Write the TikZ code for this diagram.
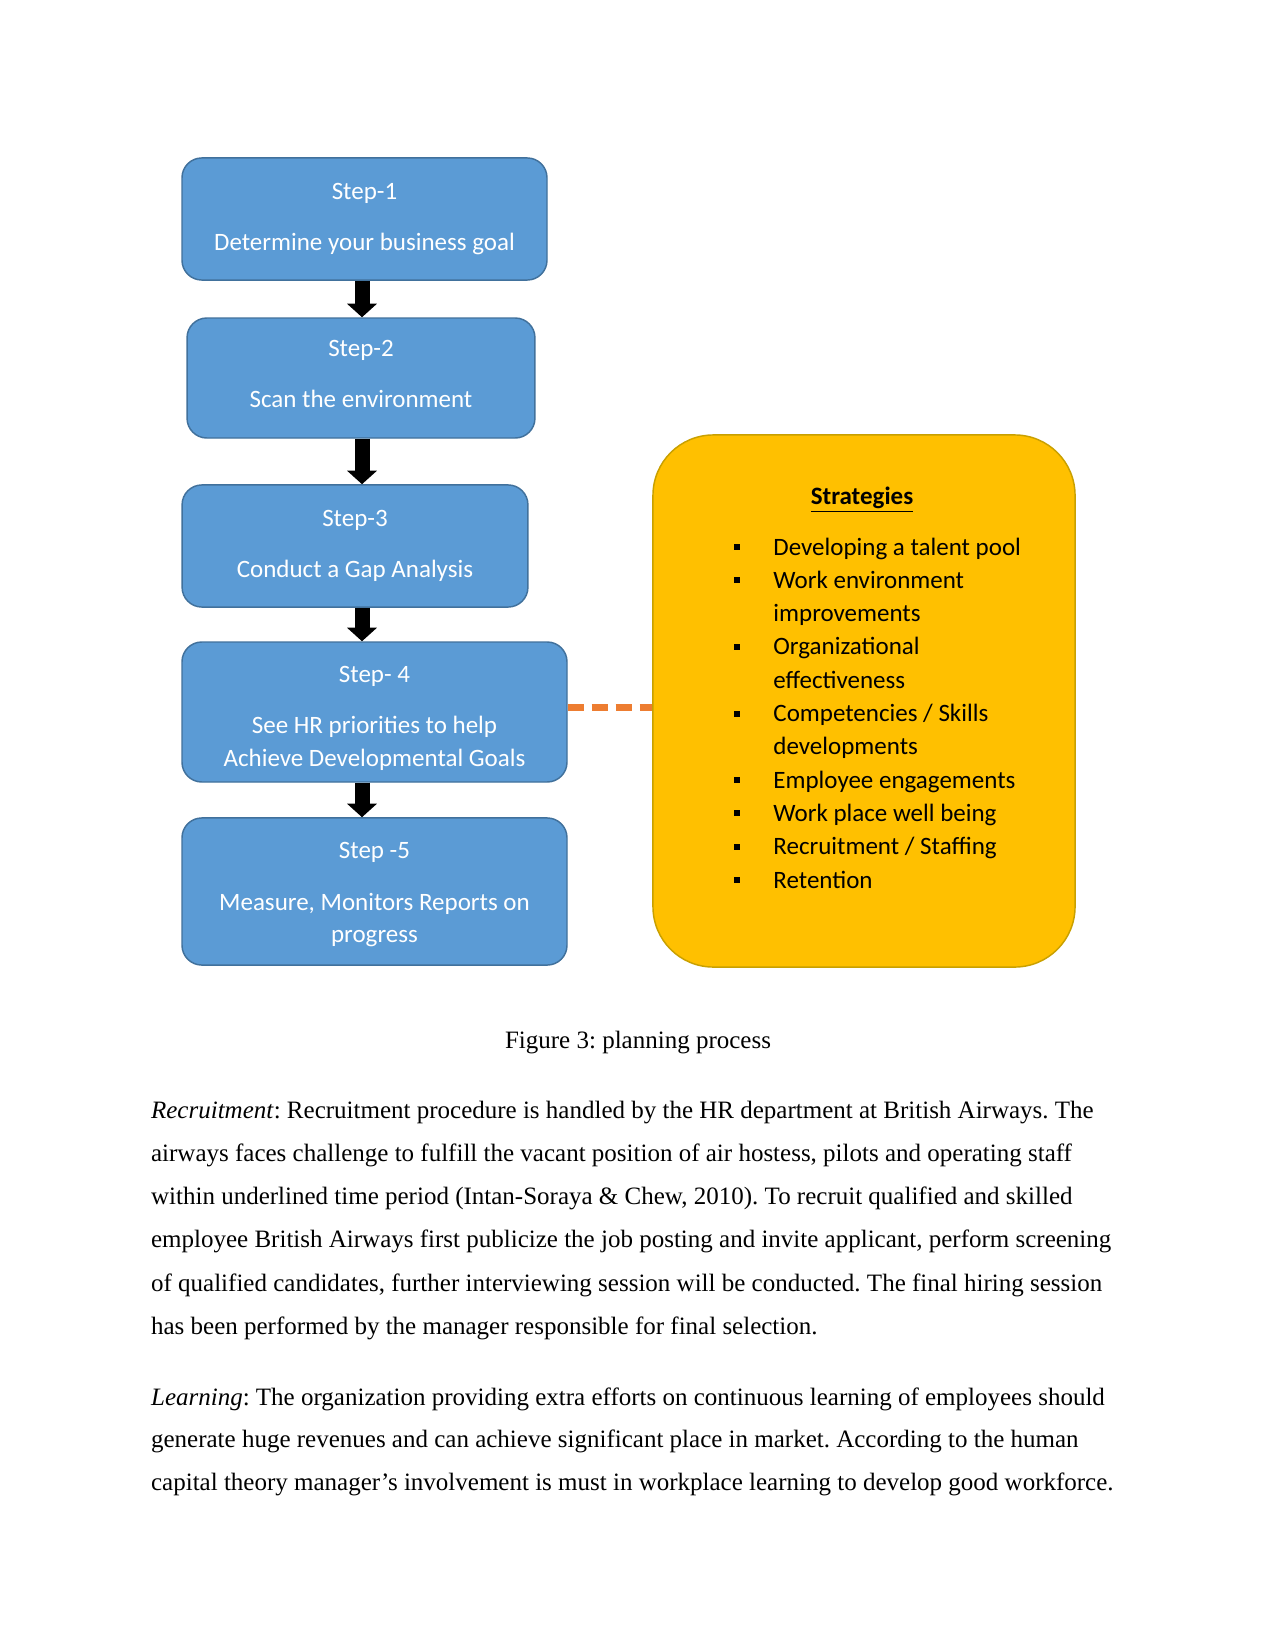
\documentclass[tikz,border=0pt]{standalone}
\usepackage{fontspec}
\setmainfont{Liberation Serif}
\newfontfamily\calib{Carlito}
\usetikzlibrary{arrows.meta}
\definecolor{boxblue}{HTML}{5B9BD5}
\definecolor{boxedge}{HTML}{41719C}
\definecolor{yel}{HTML}{FFC000}
\definecolor{yeledge}{HTML}{C9A000}
\definecolor{dashorange}{HTML}{ED7D31}
\begin{document}
\frenchspacing
\begin{tikzpicture}[x=0.48pt,y=-0.48pt,
  stepbox/.style={draw=boxedge, fill=boxblue, rounded corners=9.5pt, line width=0.7pt, inner sep=0pt},
  steptext/.style={text=white, font=\calib\fontsize{12}{15.8}\selectfont, align=center, inner sep=0pt},
  flowarrow/.style={line width=7.2pt, black, -{Triangle[width=14pt,length=6.5pt]}},
  linkdash/.style={dashorange, line width=2.9pt, dash pattern=on 8pt off 3.5pt},
  stratbox/.style={draw=yeledge, fill=yel, rounded corners=29pt, line width=0.7pt, inner sep=0pt},
  strattext/.style={anchor=base west, font=\calib\fontsize{12}{15.8}\selectfont, inner sep=0pt},
  bodytext/.style={anchor=base west, font=\fontsize{12}{14}\selectfont, inner sep=0pt}]
\useasboundingbox (0,0) rectangle (1275,1651);
\fill[white] (0,0) rectangle (1275,1651);

% step boxes
\node[stepbox, minimum width=175.2pt, minimum height=58.6pt] (b1) at (364.5,219) {};
\node[stepbox, minimum width=167pt, minimum height=57.6pt] (b2) at (361,378) {};
\node[stepbox, minimum width=166pt, minimum height=58.6pt] (b3) at (355,546) {};
\node[stepbox, minimum width=184.8pt, minimum height=67.2pt] (b4) at (374.5,712) {};
\node[stepbox, minimum width=184.8pt, minimum height=70.6pt] (b5) at (374.5,891.5) {};

\node[steptext] (t1) at (364.5,219) {Step-1\\[8.7pt]Determine your business goal};
\node[steptext] (t2) at (361,374) {Step-2\\[8.7pt]Scan the environment};
\node[steptext] (t3) at (355,546) {Step-3\\[8.7pt]Conduct a Gap Analysis};
\node[steptext] (t4) at (374.5,718) {Step- 4\\[8.7pt]See HR priorities to help\\Achieve Developmental Goals};
\node[steptext] (t5) at (374.5,895) {Step -5\\[8.7pt]Measure, Monitors Reports on\\progress};

% arrows
\coordinate (ax) at (362,0);
\draw[flowarrow] (b1.south -| ax) -- (b2.north -| ax);
\draw[flowarrow] (b2.south -| ax) -- (b3.north -| ax);
\draw[flowarrow] (b3.south -| ax) -- (b4.north -| ax);
\draw[flowarrow] (b4.south -| ax) -- (b5.north -| ax);

% strategies box
\node[stratbox, minimum width=202.6pt, minimum height=255.4pt] (strat) at (864,701) {};
\coordinate (dy) at (0,707.5);
\draw[linkdash] (b4.east |- dy) -- (strat.west |- dy);

\node[anchor=base, font=\calib\fontsize{12}{15.8}\selectfont\bfseries, inner sep=0pt] (title) at (862,504) {\underline{Strategies}};
\node[strattext] (s1) at (773,555) {Developing a talent pool};
\node[strattext] (s2) at (773,588.3) {Work environment};
\node[strattext] (s3) at (773,621.6) {improvements};
\node[strattext] (s4) at (773,654.9) {Organizational};
\node[strattext] (s5) at (773,688.2) {effectiveness};
\node[strattext] (s6) at (773,721.5) {Competencies / Skills};
\node[strattext] (s7) at (773,754.8) {developments};
\node[strattext] (s8) at (773,788.1) {Employee engagements};
\node[strattext] (s9) at (773,821.4) {Work place well being};
\node[strattext] (s10) at (773,854.7) {Recruitment / Staffing};
\node[strattext] (s11) at (773,888) {Retention};
\foreach \yy in {555,588.3,654.9,721.5,788.1,821.4,854.7,888}
  \fill[black] (734,\yy-11) rectangle (740,\yy-5);

% caption and body text
\node[anchor=base, font=\fontsize{12}{14}\selectfont, inner sep=0pt] (cap) at (638,1048) {Figure 3: planning process};
\node[bodytext] (p1) at (150.7,1118) {\textit{Recruitment}: Recruitment procedure is handled by the HR department at British Airways. The};
\node[bodytext] (p2) at (150.7,1161.3) {airways faces challenge to fulfill the vacant position of air hostess, pilots and operating staff};
\node[bodytext] (p3) at (150.7,1204.6) {within underlined time period (Intan-Soraya \& Chew, 2010). To recruit qualified and skilled};
\node[bodytext] (p4) at (150.7,1247.9) {employee British Airways first publicize the job posting and invite applicant, perform screening};
\node[bodytext] (p5) at (150.7,1291.2) {of qualified candidates, further interviewing session will be conducted. The final hiring session};
\node[bodytext] (p6) at (150.7,1334.5) {has been performed by the manager responsible for final selection.};
\node[bodytext] (p7) at (150.7,1405) {\textit{Learning}: The organization providing extra efforts on continuous learning of employees should};
\node[bodytext] (p8) at (150.7,1447.7) {generate huge revenues and can achieve significant place in market. According to the human};
\node[bodytext] (p9) at (150.7,1490.4) {capital theory manager’s involvement is must in workplace learning to develop good workforce.};
\end{tikzpicture}
\end{document}
